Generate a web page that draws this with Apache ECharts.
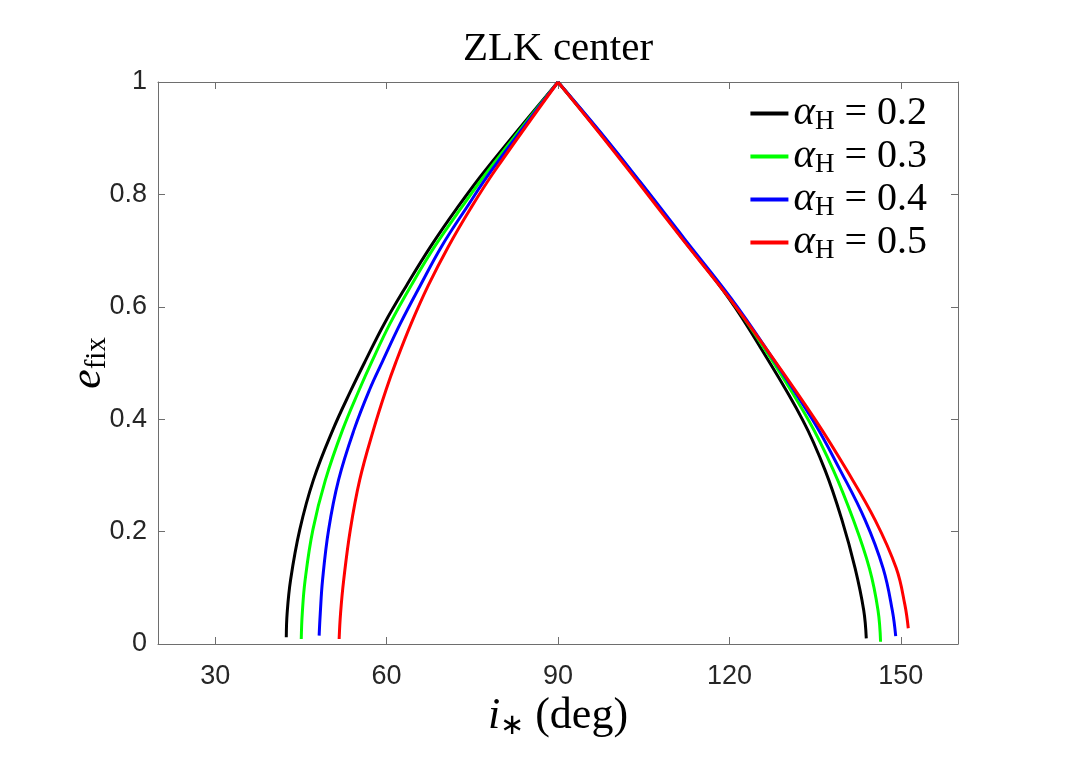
<!DOCTYPE html>
<html>
<head>
<meta charset="utf-8">
<script src="https://cdn.jsdelivr.net/npm/echarts@6/dist/echarts.min.js"></script>
<style>
  html, body { margin: 0; background: #fff; }
  #main { width: 1080px; height: 763px; }
</style>
</head>
<body>
<div id="main"></div>
<script>
// alpha_H values, legend order
var alphaNames = ['0.2', '0.3', '0.4', '0.5']
var xTicks = [30, 60, 90, 120, 150]

// [i (deg), e_fix], left branch bottom -> apex
var left02 = [[42.45, 0.012], [42.6, 0.055], [43.2, 0.114], [44.8, 0.203], [47.2, 0.292], [50.6, 0.381], [53.8, 0.452], [56.2, 0.502], [59.6, 0.570], [63.5, 0.638], [67.7, 0.707], [72.3, 0.775], [77.3, 0.843], [90, 1]]
var left03 = [[45.07, 0.009], [45.25, 0.055], [45.75, 0.114], [47.1, 0.203], [49.3, 0.292], [52.3, 0.381], [55.2, 0.452], [57.4, 0.502], [60.6, 0.570], [64.3, 0.638], [68.4, 0.707], [73.0, 0.775], [77.85, 0.843], [90, 1]]
var left04 = [[48.2, 0.015], [48.4, 0.055], [48.8, 0.114], [49.85, 0.203], [51.6, 0.292], [54.3, 0.381], [57.0, 0.452], [59.25, 0.502], [62.4, 0.570], [65.9, 0.638], [69.6, 0.707], [73.9, 0.775], [78.4, 0.843], [90, 1]]
var left05 = [[51.7, 0.009], [51.95, 0.055], [52.5, 0.114], [53.65, 0.203], [55.3, 0.292], [57.7, 0.381], [59.9, 0.452], [61.65, 0.502], [64.3, 0.570], [67.3, 0.638], [70.8, 0.707], [74.7, 0.775], [79.0, 0.843], [90, 1]]

// right branch apex -> bottom
var right02 = [[90, 1], [97.2, 0.911], [104.2, 0.822], [111.9, 0.72], [119.9, 0.615], [125.7, 0.523], [132.85, 0.398], [136.75, 0.309], [139.7, 0.2205], [142.0, 0.1346], [143.5, 0.06], [143.95, 0.01]]
var right03 = [[90, 1], [97.3, 0.911], [104.3, 0.822], [112.0, 0.72], [120.1, 0.615], [126.3, 0.523], [133.85, 0.398], [138.2, 0.309], [141.7, 0.2205], [144.5, 0.1346], [146.0, 0.06], [146.45, 0.004]]
var right04 = [[90, 1], [97.4, 0.911], [104.4, 0.822], [112.2, 0.72], [120.3, 0.615], [126.6, 0.523], [134.6, 0.398], [139.4, 0.309], [143.75, 0.2205], [146.9, 0.1346], [148.5, 0.06], [149.1, 0.014]]
var right05 = [[90, 1], [97.1, 0.911], [104.0, 0.822], [111.8, 0.72], [120.0, 0.615], [126.6, 0.523], [135.1, 0.398], [140.55, 0.309], [145.5, 0.2205], [149.2, 0.1346], [150.7, 0.07], [151.3, 0.028]]

var branches = [[left02, right02], [left03, right03], [left04, right04], [left05, right05]]
var lineColors = ['#000000', '#00ff00', '#0000ff', '#ff0000']

var chartDom = document.getElementById('main')
var myChart = echarts.init(chartDom)

var axisGray = '#6e6e6e'
var labelColor = '#262626'
var serif = 'Liberation Serif'

var series = []
alphaNames.forEach(function (name, k) {
  branches[k].forEach(function (pts) {
    series.push({
      name: name,
      type: 'line',
      xAxisIndex: 0,
      yAxisIndex: 0,
      data: pts,
      smooth: 0.4,
      symbol: 'none',
      color: lineColors[k],
      lineStyle: { width: 3, color: lineColors[k] }
    })
  })
})

var option = {
  backgroundColor: '#fff',
  animation: false,
  title: {
    text: 'ZLK center',
    left: 553,
    top: 24,
    textAlign: 'center',
    textStyle: { fontFamily: serif, fontSize: 41, fontWeight: 'normal', color: '#000' }
  },
  grid: { left: 158, right: 122, top: 82, bottom: 119 },
  legend: {
    data: alphaNames,
    orient: 'vertical',
    right: 148,
    top: 87,
    itemWidth: 38,
    itemHeight: 4,
    itemGap: 0,
    icon: 'rect',
    formatter: function (name) {
      return '{a|α}{h|H}{t| = ' + name + '}'
    },
    textStyle: {
      rich: {
        a: { fontFamily: serif, fontStyle: 'italic', fontSize: 41, lineHeight: 41, color: '#000' },
        h: { fontFamily: serif, fontSize: 27, lineHeight: 27, color: '#000', padding: [16, 0, 0, 0] },
        t: { fontFamily: serif, fontSize: 40, lineHeight: 41, color: '#000' }
      }
    }
  },
  xAxis: [
    {
      type: 'value', min: 20, max: 160, position: 'bottom',
      axisLine: { show: true, onZero: false, lineStyle: { color: axisGray, width: 1 } },
      axisTick: { show: true, inside: true, length: 7, customValues: xTicks, lineStyle: { color: axisGray } },
      axisLabel: { customValues: xTicks, fontFamily: 'Liberation Sans', fontSize: 27, color: labelColor, margin: 19 },
      splitLine: { show: false },
      name: '{i|i}{s|∗}{t| (deg)}',
      nameLocation: 'middle',
      nameGap: 44,
      nameTextStyle: {
        rich: {
          i: { fontFamily: serif, fontStyle: 'italic', fontSize: 44, color: '#000' },
          s: { fontFamily: serif, fontSize: 29, color: '#000', padding: [18, 0, 0, 0] },
          t: { fontFamily: serif, fontSize: 44, color: '#000' }
        }
      }
    },
    {
      type: 'value', min: 20, max: 160, position: 'top',
      axisLine: { show: true, onZero: false, lineStyle: { color: axisGray, width: 1 } },
      axisTick: { show: true, inside: true, length: 7, customValues: xTicks, lineStyle: { color: axisGray } },
      axisLabel: { show: false },
      splitLine: { show: false }
    }
  ],
  yAxis: [
    {
      type: 'value', min: 0, max: 1, interval: 0.2, position: 'left',
      axisLine: { show: true, onZero: false, lineStyle: { color: axisGray, width: 1 } },
      axisTick: { show: true, inside: true, length: 7, lineStyle: { color: axisGray } },
      axisLabel: { fontFamily: 'Liberation Sans', fontSize: 27, color: labelColor, margin: 11 },
      splitLine: { show: false },
      name: '{e|e}{s|fix}',
      nameLocation: 'middle',
      nameGap: 46,
      nameMoveOverlap: false,
      nameTextStyle: {
        rich: {
          e: { fontFamily: serif, fontStyle: 'italic', fontSize: 44, color: '#000' },
          s: { fontFamily: serif, fontSize: 29, color: '#000', padding: [18, 0, 0, 0] }
        }
      }
    },
    {
      type: 'value', min: 0, max: 1, interval: 0.2, position: 'right',
      axisLine: { show: true, onZero: false, lineStyle: { color: axisGray, width: 1 } },
      axisTick: { show: true, inside: true, length: 7, lineStyle: { color: axisGray } },
      axisLabel: { show: false },
      splitLine: { show: false }
    }
  ],
  series: series
}

option && myChart.setOption(option)
</script>
</body>
</html>
